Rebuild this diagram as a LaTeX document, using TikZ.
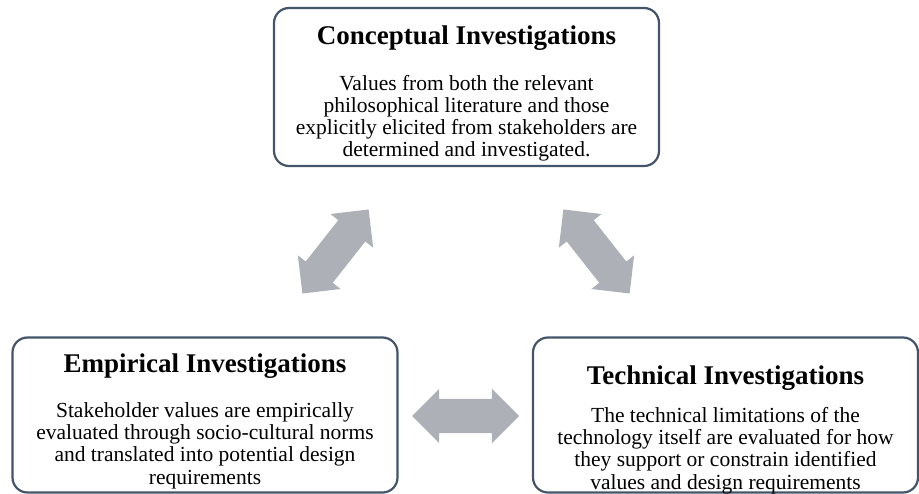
\documentclass[tikz,border=0pt]{standalone}
\usepackage{fontspec}
\setmainfont{Liberation Serif}
\usepackage{tikz}
\usetikzlibrary{shapes.arrows}
\definecolor{boxline}{HTML}{44546A}
\definecolor{arrowgray}{HTML}{ADB0B6}

\begin{document}
\begin{tikzpicture}[x=1pt,y=-1pt,
	investbox/.style={draw=boxline,line width=2.2pt,rounded corners=15pt,minimum width=385pt,minimum height=155pt,inner sep=0pt},
	boxtitle/.style={anchor=base,font=\fontsize{27}{30}\selectfont\bfseries},
	boxtext/.style={anchor=base,align=center,font=\fontsize{21.5}{22.3}\selectfont},
	fatarrow/.style={double arrow,fill=arrowgray,inner xsep=0pt,inner ysep=17pt,minimum height=107pt,double arrow head extend=10pt}]
	\useasboundingbox (0,0) rectangle (919,494);
	
	\node (concept) [investbox,minimum height=158pt] at (466.5,87) {};
	\node (empirical) [investbox] at (205,415) {};
	\node (technical) [investbox] at (725.5,415) {};
	
	% base of a text node is the baseline of its last line
	\node (concept title) [boxtitle] at (466.5,45) {Conceptual Investigations};
	\node (concept text) [boxtext] at (466.5,157) {Values from both the relevant\\philosophical literature and those\\explicitly elicited from stakeholders are\\determined and investigated.};
	
	\node (empirical title) [boxtitle] at (205,373) {Empirical Investigations};
	\node (empirical text) [boxtext] at (205,484) {Stakeholder values are empirically\\evaluated through socio-cultural norms\\and translated into potential design\\requirements};
	
	\node (technical title) [boxtitle] at (725.5,385) {Technical Investigations};
	\node (technical text) [boxtext] at (725.5,489) {The technical limitations of the\\technology itself are evaluated for how\\they support or constrain identified\\values and design requirements};
	
	\node (arrow ce) [fatarrow,rotate=51.75] at (335.5,251.5) {};
	\node (arrow ct) [fatarrow,rotate=-51.75] at (596.5,251.5) {};
	\node (arrow et) [fatarrow] at (465.5,416) {};
\end{tikzpicture}
\end{document}
